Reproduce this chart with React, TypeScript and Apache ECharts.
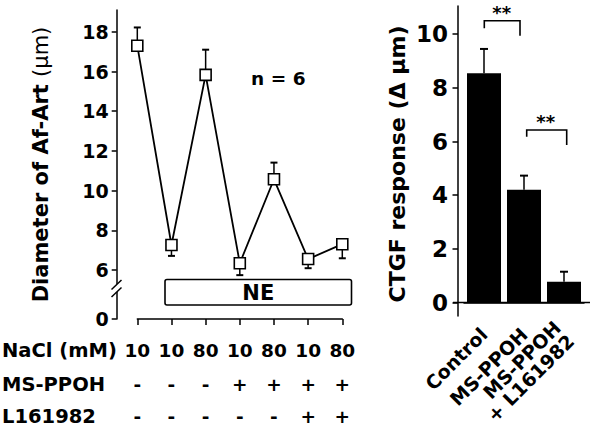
import React, { useEffect, useRef } from 'react';
import * as echarts from 'echarts';

// ---- Left panel data (Af-Art diameter) ----
const naclLevels = ['10', '10', '80', '10', '80', '10', '80'];
const msPpohRow = ['-', '-', '-', '+', '+', '+', '+'];
const l161982Row = ['-', '-', '-', '-', '-', '+', '+'];
const diameterMean = [17.3, 7.26, 15.83, 6.34, 10.57, 6.55, 7.3];
const diameterSE = [0.92, 0.55, 1.27, 0.6, 0.84, 0.46, 0.71];
const errorDirection = [1, -1, 1, -1, 1, -1, -1];
const leftTickValues = [6, 8, 10, 12, 14, 16, 18];
const brokenZeroValue = 3.53; // axis position that is labelled "0" (broken axis)

// ---- Right panel data (CTGF response) ----
const ctgfGroups = ['Control', 'MS-PPOH', 'MS-PPOH\n+ L161982'];
const ctgfMean = [8.54, 4.2, 0.78];
const ctgfSE = [0.91, 0.53, 0.37];
const rightTickValues = [0, 2, 4, 6, 8, 10];

const FONT = '"DejaVu Sans"';
const BLACK = '#000';

function errorRenderer(capHalf: number) {
  return (params: any, api: any) => {
    const x = api.value(0);
    const v = api.value(1);
    const e = api.value(2);
    const d = api.value(3);
    const p0 = api.coord([x, v]);
    const p1 = api.coord([x, v + d * e]);
    return {
      type: 'group',
      children: [
        { type: 'line', shape: { x1: p0[0], y1: p0[1], x2: p1[0], y2: p1[1] }, style: { stroke: BLACK, lineWidth: 1.5 } },
        { type: 'line', shape: { x1: p1[0] - capHalf, y1: p1[1], x2: p1[0] + capHalf, y2: p1[1] }, style: { stroke: BLACK, lineWidth: 2 } },
      ],
    };
  };
}

export default function App() {
  const ref = useRef<HTMLDivElement>(null);
  useEffect(() => {
    if (!ref.current) return;
    const chart = echarts.init(ref.current, undefined, { renderer: 'svg' });
    const axisLineStyle = { color: BLACK, width: 1.5 };
    const catIdx = naclLevels.map((_, i) => String(i));
    const rowLabel = (rows: string[], margin: number) => ({
      interval: 0,
      margin,
      color: BLACK,
      fontFamily: FONT,
      fontWeight: 'bold',
      fontSize: 18.5,
      lineHeight: 18,
      formatter: (_v: string, i: number) => rows[i],
    });
    const tableAxis = (rows: string[], margin: number) => ({
      gridIndex: 0,
      type: 'category',
      position: 'bottom',
      offset: 0,
      data: catIdx,
      boundaryGap: false,
      axisLine: { show: false, onZero: false },
      axisTick: { show: false },
      axisLabel: rowLabel(rows, margin),
      splitLine: { show: false },
    });
    const option: any = {
      animation: false,
      backgroundColor: '#fff',
      grid: [
        { left: 137.3, top: 10, width: 205, height: 309, containLabel: false, outerBoundsMode: 'none' },
        { left: 464, top: 6, width: 120, height: 310, containLabel: false, outerBoundsMode: 'none' },
      ],
      xAxis: [
        {
          gridIndex: 0,
          type: 'category',
          position: 'bottom',
          data: catIdx,
          boundaryGap: false,
          axisLine: { onZero: false, lineStyle: axisLineStyle },
          axisTick: { show: true, length: 6, lineStyle: axisLineStyle },
          axisLabel: rowLabel(naclLevels, 22),
          splitLine: { show: false },
        },
        {
          gridIndex: 1,
          type: 'category',
          data: ctgfGroups,
          axisLine: { onZero: true, lineStyle: axisLineStyle },
          axisTick: { show: false },
          axisLabel: {
            interval: 0,
            rotate: 45,
            margin: 15,
            color: BLACK,
            fontFamily: FONT,
            fontWeight: 'bold',
            fontSize: 19,
            lineHeight: 19,
          },
          splitLine: { show: false },
        },
        tableAxis(msPpohRow, 56),
        tableAxis(l161982Row, 88),
      ],
      yAxis: [
        {
          gridIndex: 0,
          type: 'value',
          min: brokenZeroValue,
          max: 19.1,
          offset: 20.6,
          axisLine: { show: true, lineStyle: axisLineStyle },
          axisTick: { show: true, length: 5, lineStyle: axisLineStyle, customValues: [brokenZeroValue, ...leftTickValues] },
          axisLabel: {
            customValues: [brokenZeroValue, ...leftTickValues],
            formatter: (v: number) => (v < 5 ? '0' : String(Math.round(v))),
            margin: 8,
            color: BLACK,
            fontFamily: FONT,
            fontWeight: 'bold',
            fontSize: 19,
          },
          splitLine: { show: false },
        },
        {
          gridIndex: 1,
          type: 'value',
          min: -0.5,
          max: 11.05,
          offset: 6,
          axisLine: { show: true, lineStyle: axisLineStyle },
          axisTick: { show: true, length: 5.5, lineStyle: axisLineStyle, customValues: rightTickValues },
          axisLabel: {
            customValues: rightTickValues,
            margin: 10,
            color: BLACK,
            fontFamily: FONT,
            fontWeight: 'bold',
            fontSize: 23,
          },
          splitLine: { show: false },
        },
      ],
      series: [
        {
          type: 'custom',
          xAxisIndex: 0,
          yAxisIndex: 0,
          z: 1,
          encode: { x: 0, y: 1 },
          data: diameterMean.map((v, i) => [i, v, diameterSE[i], errorDirection[i]]),
          renderItem: errorRenderer(3.5),
        },
        {
          type: 'line',
          xAxisIndex: 0,
          yAxisIndex: 0,
          z: 3,
          data: diameterMean.map((v, i) => [i, v]),
          symbol: 'rect',
          symbolSize: 11,
          itemStyle: { color: '#fff', borderColor: BLACK, borderWidth: 1.6 },
          lineStyle: { color: BLACK, width: 1.8 },
        },
        {
          type: 'bar',
          xAxisIndex: 1,
          yAxisIndex: 1,
          barWidth: 34,
          data: ctgfMean,
          itemStyle: { color: BLACK },
          z: 2,
        },
        {
          type: 'custom',
          xAxisIndex: 1,
          yAxisIndex: 1,
          z: 1,
          encode: { x: 0, y: 1 },
          data: ctgfMean.map((v, i) => [i, v, ctgfSE[i], 1]),
          renderItem: errorRenderer(4),
        },
      ],
    };
    chart.setOption(option);

    const y0 = chart.convertToPixel({ yAxisIndex: 1 }, 0) as number;
    const bold = (size: number) => `bold ${size}px ${FONT}`;
    const line = (x1: number, y1: number, x2: number, y2: number, w = 1.5) => ({
      type: 'line',
      shape: { x1, y1, x2, y2 },
      style: { stroke: BLACK, lineWidth: w },
      z: 10,
    });
    chart.setOption({
      graphic: [
        // axis break marks on the left y axis
        { type: 'rect', shape: { x: 112, y: 284, width: 9, height: 8 }, style: { fill: '#fff' }, z: 10 },
        line(111.5, 289.5, 121.5, 280),
        line(111.5, 297, 121.5, 287.5),
        // NE box
        { type: 'rect', shape: { x: 165, y: 279.5, width: 186.5, height: 25.5, r: 2 }, style: { fill: '#fff', stroke: BLACK, lineWidth: 1.6 }, z: 10 },
        { type: 'text', x: 258.3, y: 293, style: { text: 'NE', font: bold(21), fill: BLACK, align: 'center', verticalAlign: 'middle' }, z: 11 },
        { type: 'text', x: 278.3, y: 78, style: { text: 'n = 6', font: bold(18.5), fill: BLACK, align: 'center', verticalAlign: 'middle' }, z: 11 },
        // table row headers
        { type: 'text', x: 2, y: 350, style: { text: 'NaCl (mM)', font: bold(19.5), fill: BLACK, align: 'left', verticalAlign: 'middle' } },
        { type: 'text', x: 2, y: 384, style: { text: 'MS-PPOH', font: bold(19.5), fill: BLACK, align: 'left', verticalAlign: 'middle' } },
        { type: 'text', x: 2, y: 416, style: { text: 'L161982', font: bold(19.5), fill: BLACK, align: 'left', verticalAlign: 'middle' } },
        // axis titles
        {
          type: 'text', x: 41, y: 164.5, rotation: Math.PI / 2,
          style: {
            text: '{b|Diameter of Af-Art }{r|(μm)}',
            align: 'center', verticalAlign: 'middle', fill: BLACK,
            rich: {
              b: { font: bold(21), fill: BLACK },
              r: { font: `21px ${FONT}`, fill: BLACK },
            },
          },
        },
        {
          type: 'text', x: 397, y: 164, rotation: Math.PI / 2,
          style: { text: 'CTGF response (Δ μm)', font: bold(22), fill: BLACK, align: 'center', verticalAlign: 'middle' },
        },
        // right x-axis baseline extension
        line(453, y0, 590, y0, 1.5),
        // significance brackets
        { type: 'polyline', shape: { points: [[484.3, 28.3], [484.3, 20.7], [520, 20.7], [520, 35.7]] }, style: { stroke: BLACK, lineWidth: 1.6, fill: null }, z: 10 },
        { type: 'text', x: 501.7, y: 12.5, style: { text: '**', font: bold(18), fill: BLACK, align: 'center', verticalAlign: 'middle' } },
        { type: 'polyline', shape: { points: [[526.7, 136.7], [526.7, 130], [566.7, 130], [566.7, 145]] }, style: { stroke: BLACK, lineWidth: 1.6, fill: null }, z: 10 },
        { type: 'text', x: 545.7, y: 121.7, style: { text: '**', font: bold(18), fill: BLACK, align: 'center', verticalAlign: 'middle' } },
      ],
    });

    return () => chart.dispose();
  }, []);
  return <div ref={ref} style={{ position: 'absolute', left: 0, top: 0, width: 601, height: 426 }} />;
}
